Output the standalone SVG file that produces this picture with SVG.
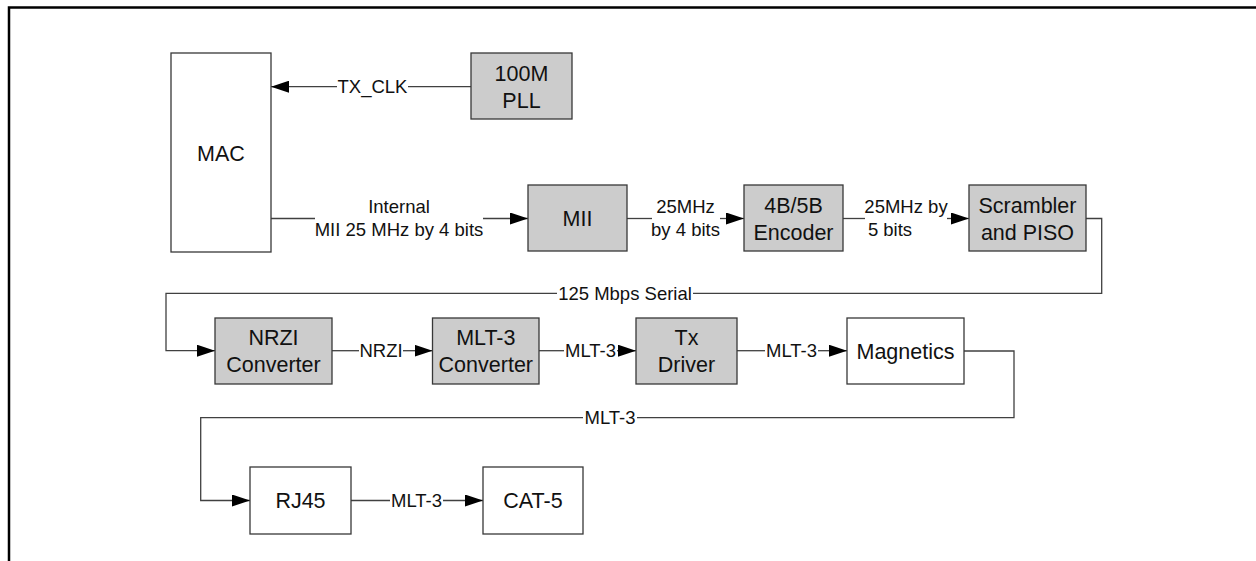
<svg xmlns="http://www.w3.org/2000/svg" width="1256" height="561" viewBox="0 0 1256 561">
<style>
.box{stroke:#383838;stroke-width:1.3}
.g{fill:#cccccc}
.w{fill:#ffffff}
.nt{font-family:"Liberation Sans",Arial,sans-serif;font-size:21.5px;fill:#111;text-anchor:middle}
.lt{font-family:"Liberation Sans",Arial,sans-serif;font-size:18.5px;fill:#111;text-anchor:middle}
.c{fill:none;stroke:#404040;stroke-width:1.3}
</style>
<defs>
<marker id="ah" markerUnits="userSpaceOnUse" markerWidth="18" markerHeight="12" refX="18" refY="6" orient="auto">
<path d="M0,0 L18,6 L0,12 z" fill="#000"/>
</marker>
</defs>
<rect width="1256" height="561" fill="#fff"/>
<path d="M9,561 V7.5 H1256" fill="none" stroke="#000" stroke-width="2.5"/>

<g id="connectors">
<path class="c" d="M471,86.7 H408"/>
<path class="c" d="M337,86.7 H271" marker-end="url(#ah)"/>
<text class="lt" x="372.5" y="93.3">TX_CLK</text>

<path class="c" d="M271,218.5 H315"/>
<path class="c" d="M483,218.5 H528" marker-end="url(#ah)"/>
<text class="lt" x="399" y="213.3">Internal</text>
<text class="lt" x="399" y="235.6">MII 25 MHz by 4 bits</text>

<path class="c" d="M627,218.5 H652"/>
<path class="c" d="M720,218.5 H744" marker-end="url(#ah)"/>
<text class="lt" x="685.5" y="213.3">25MHz</text>
<text class="lt" x="685.5" y="235.6">by 4 bits</text>

<path class="c" d="M843,218.5 H865"/>
<path class="c" d="M947,218.5 H969" marker-end="url(#ah)"/>
<text class="lt" x="906" y="213.3">25MHz by</text>
<text class="lt" x="890" y="235.6">5 bits</text>

<path class="c" d="M1086,218.5 H1101.7 V293.3 H693"/>
<path class="c" d="M557,293.3 H166 V350.7 H215" marker-end="url(#ah)"/>
<text class="lt" x="625" y="299.9">125 Mbps Serial</text>

<path class="c" d="M332,350.7 H359"/>
<path class="c" d="M403,350.7 H432.5" marker-end="url(#ah)"/>
<text class="lt" x="381" y="357.3">NRZI</text>

<path class="c" d="M539,350.7 H564"/>
<path class="c" d="M617,350.7 H636" marker-end="url(#ah)"/>
<text class="lt" x="590.5" y="357.3">MLT-3</text>

<path class="c" d="M737,350.7 H765"/>
<path class="c" d="M818,350.7 H847" marker-end="url(#ah)"/>
<text class="lt" x="791.5" y="357.3">MLT-3</text>

<path class="c" d="M964,351 H1014 V417.7 H637"/>
<path class="c" d="M583,417.7 H200.7 V500.5 H250" marker-end="url(#ah)"/>
<text class="lt" x="610" y="424.3">MLT-3</text>

<path class="c" d="M351,500.5 H390"/>
<path class="c" d="M443,500.5 H483" marker-end="url(#ah)"/>
<text class="lt" x="416.5" y="507.1">MLT-3</text>
</g>

<g id="mac">
<rect class="box w" x="171" y="53" width="100" height="199"/>
<text class="nt" x="221" y="161">MAC</text>
</g>
<g id="pll">
<rect class="box g" x="471" y="53" width="101" height="66"/>
<text class="nt" x="521.5" y="81">100M</text>
<text class="nt" x="521.5" y="107.7">PLL</text>
</g>
<g id="mii">
<rect class="box g" x="528" y="185" width="99" height="66"/>
<text class="nt" x="577.5" y="225.7">MII</text>
</g>
<g id="encoder">
<rect class="box g" x="744" y="185" width="99" height="66"/>
<text class="nt" x="793.5" y="213">4B/5B</text>
<text class="nt" x="793.5" y="239.5">Encoder</text>
</g>
<g id="scrambler">
<rect class="box g" x="969" y="185" width="117" height="66"/>
<text class="nt" x="1027.5" y="213">Scrambler</text>
<text class="nt" x="1027.5" y="239.5">and PISO</text>
</g>
<g id="nrzi">
<rect class="box g" x="215" y="318" width="117" height="66"/>
<text class="nt" x="273.5" y="345.4">NRZI</text>
<text class="nt" x="273.5" y="372">Converter</text>
</g>
<g id="mlt3">
<rect class="box g" x="432.5" y="318" width="106.5" height="66"/>
<text class="nt" x="485.8" y="345.4">MLT-3</text>
<text class="nt" x="485.8" y="372">Converter</text>
</g>
<g id="txdriver">
<rect class="box g" x="636" y="318" width="101" height="66"/>
<text class="nt" x="686.5" y="345.4">Tx</text>
<text class="nt" x="686.5" y="372">Driver</text>
</g>
<g id="magnetics">
<rect class="box w" x="847" y="318" width="117" height="66"/>
<text class="nt" x="905.5" y="358.7">Magnetics</text>
</g>
<g id="rj45">
<rect class="box w" x="250" y="467" width="101" height="67"/>
<text class="nt" x="300.5" y="508.2">RJ45</text>
</g>
<g id="cat5">
<rect class="box w" x="483" y="467" width="100" height="67"/>
<text class="nt" x="533" y="508.2">CAT-5</text>
</g>
</svg>
